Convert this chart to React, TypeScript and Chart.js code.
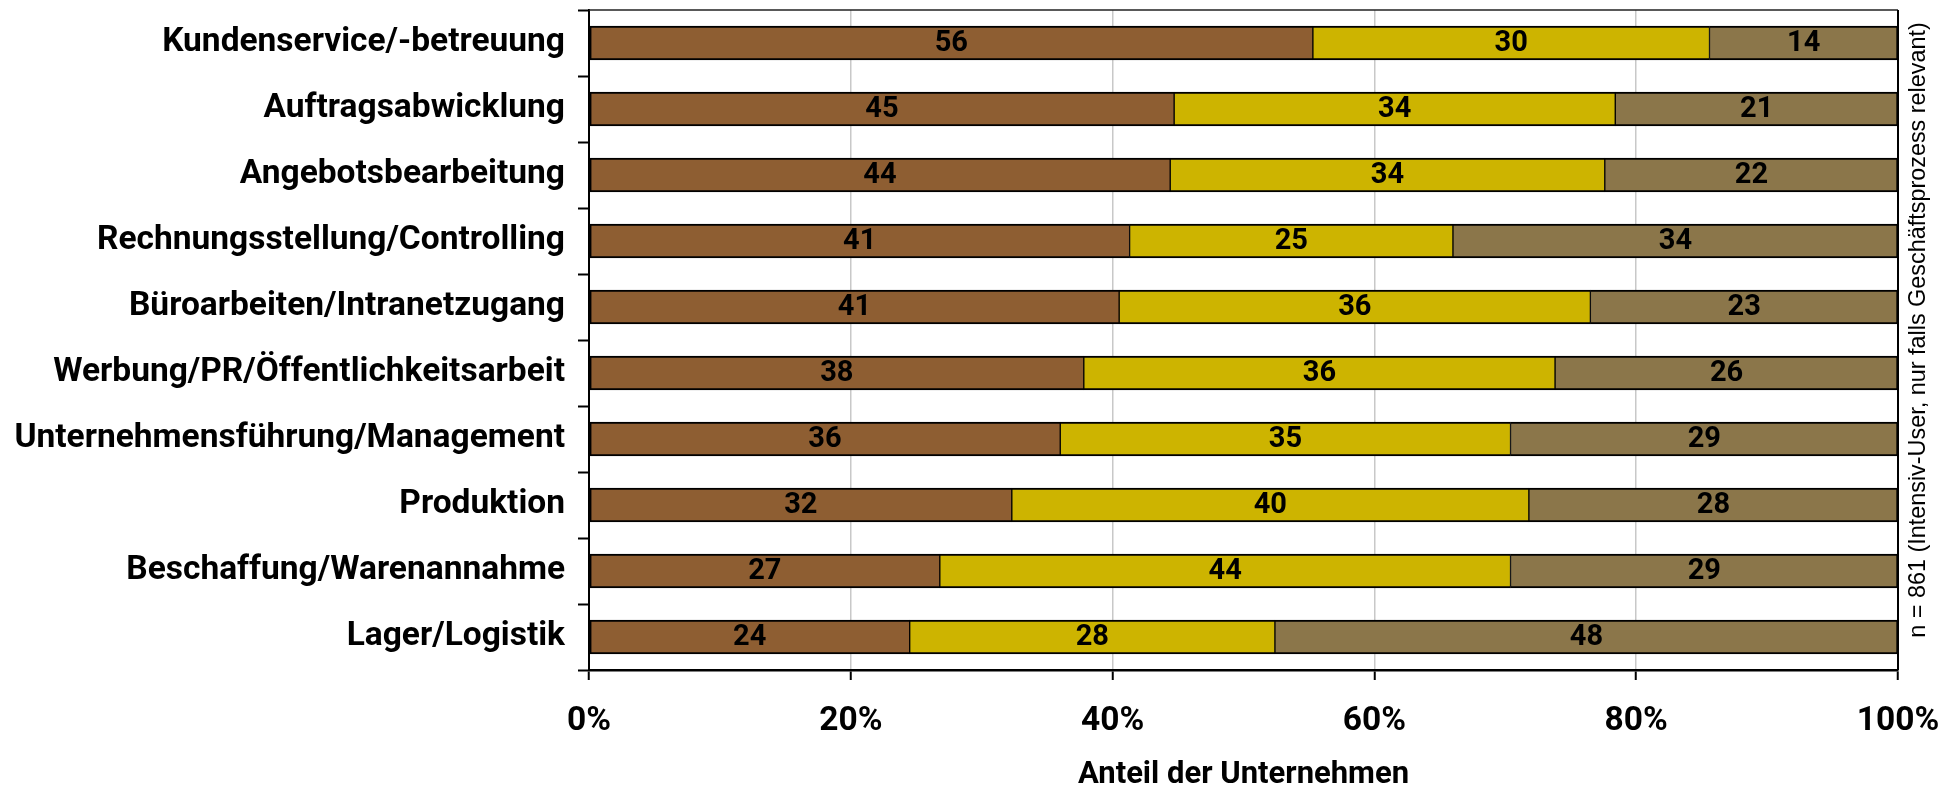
import React, { useEffect, useRef } from 'react';
import { Chart, registerables } from 'chart.js';

Chart.register(...registerables);

const categories = [
  'Kundenservice/-betreuung',
  'Auftragsabwicklung',
  'Angebotsbearbeitung',
  'Rechnungsstellung/Controlling',
  'Büroarbeiten/Intranetzugang',
  'Werbung/PR/Öffentlichkeitsarbeit',
  'Unternehmensführung/Management',
  'Produktion',
  'Beschaffung/Warenannahme',
  'Lager/Logistik',
];

const shareHigh = [55.3, 44.7, 44.4, 41.3, 40.5, 37.8, 36.0, 32.3, 26.8, 24.5];
const shareMid = [30.3, 33.7, 33.2, 24.7, 36.0, 36.0, 34.4, 39.5, 43.6, 27.9];
const shareLow = [14.4, 21.6, 22.4, 34.0, 23.5, 26.2, 29.6, 28.2, 29.6, 47.6];

const labelHigh = [56, 45, 44, 41, 41, 38, 36, 32, 27, 24];
const labelMid = [30, 34, 34, 25, 36, 36, 35, 40, 44, 28];
const labelLow = [14, 21, 22, 34, 23, 26, 29, 28, 29, 48];

const xTickValues = [0, 20, 40, 60, 80, 100];
const xTitle = 'Anteil der Unternehmen';
const noteText = 'n = 861 (Intensiv-User, nur falls Geschäftsprozess relevant)';

const BOLD_FONT = 'Roboto, "Liberation Sans", Arial, sans-serif';
const NOTE_FONT = '"Liberation Sans", Arial, Helvetica, sans-serif';

export default function App() {
  const ref = useRef<HTMLCanvasElement | null>(null);

  useEffect(() => {
    document.body.style.margin = '0';
    const canvas = ref.current;
    if (!canvas) return;

    const segLabels = [labelHigh, labelMid, labelLow];

    const valuePlugin = {
      id: 'valueLabels',
      afterDatasetsDraw(chart: any) {
        const ctx = chart.ctx;
        ctx.save();
        ctx.font = `bold 29px ${BOLD_FONT}`;
        ctx.fillStyle = '#000';
        ctx.textAlign = 'center';
        ctx.textBaseline = 'middle';
        chart.data.datasets.forEach((_ds: any, di: number) => {
          const meta = chart.getDatasetMeta(di);
          meta.data.forEach((el: any, i: number) => {
            const cx = (el.x + el.base) / 2;
            ctx.fillText(String(segLabels[di][i]), cx, el.y + 1);
          });
        });
        ctx.restore();
      },
    };

    const framePlugin = {
      id: 'frame',
      afterDraw(chart: any) {
        const { ctx, chartArea } = chart;
        ctx.save();
        ctx.strokeStyle = '#222';
        ctx.lineWidth = 1.5;
        ctx.beginPath();
        ctx.moveTo(chartArea.left, chartArea.top);
        ctx.lineTo(chartArea.right, chartArea.top);
        ctx.stroke();
        ctx.lineWidth = 2;
        ctx.strokeStyle = '#000';
        ctx.beginPath();
        ctx.moveTo(chartArea.right, chartArea.top);
        ctx.lineTo(chartArea.right, chartArea.bottom);
        ctx.stroke();
        ctx.font = `23.4px ${NOTE_FONT}`;
        ctx.fillStyle = '#000';
        ctx.textAlign = 'center';
        ctx.textBaseline = 'middle';
        ctx.translate(1919, 330);
        ctx.rotate(-Math.PI / 2);
        ctx.fillText(noteText, 0, 0);
        ctx.restore();
      },
    };

    const common = {
      barThickness: 34,
      borderColor: '#000',
      borderSkipped: false as const,
    };

    const chart = new Chart(canvas, {
      type: 'bar',
      data: {
        labels: categories,
        datasets: [
          {
            label: 'hoch',
            data: shareHigh,
            backgroundColor: '#8E5E32',
            borderWidth: { top: 2, bottom: 2, left: 2, right: 1 },
            ...common,
          },
          {
            label: 'mittel',
            data: shareMid,
            backgroundColor: '#CDB400',
            borderWidth: { top: 2, bottom: 2, left: 1, right: 1 },
            ...common,
          },
          {
            label: 'gering',
            data: shareLow,
            backgroundColor: '#8B764A',
            borderWidth: { top: 2, bottom: 2, left: 1, right: 2 },
            ...common,
          },
        ],
      },
      options: {
        indexAxis: 'y',
        responsive: true,
        maintainAspectRatio: false,
        animation: false,
        layout: { padding: { top: 10, right: 58, left: 0, bottom: 0 } },
        plugins: {
          legend: { display: false },
          tooltip: { enabled: false },
        },
        scales: {
          x: {
            stacked: true,
            min: 0,
            max: 100,
            afterBuildTicks(scale: any) {
              scale.ticks = xTickValues.map((v) => ({ value: v }));
            },
            afterFit(scale: any) {
              scale.height = 115;
              scale.paddingLeft = 0;
              scale.paddingRight = 0;
            },
            ticks: {
              color: '#000',
              padding: 22,
              font: { family: BOLD_FONT, size: 33.5, weight: 'bold' },
              callback: (v: any) => `${v}%`,
              maxRotation: 0,
            },
            grid: {
              color: '#c8c8c8',
              lineWidth: 1.5,
              tickColor: '#000',
              tickLength: 10,
              tickWidth: 2,
            },
            border: { color: '#000', width: 2.5 },
            title: {
              display: true,
              text: xTitle,
              color: '#000',
              font: { family: BOLD_FONT, size: 31, weight: 'bold', lineHeight: 0.6 },
              padding: 0,
            },
          },
          y: {
            stacked: true,
            afterFit(scale: any) {
              scale.width = 589;
              scale.paddingTop = 0;
              scale.paddingBottom = 0;
            },
            ticks: {
              color: '#000',
              padding: 13,
              font: { family: BOLD_FONT, size: 33.5, weight: 'bold' },
            },
            grid: {
              offset: true,
              drawOnChartArea: false,
              tickLength: 11,
              tickColor: '#000',
              tickWidth: 2,
            },
            border: { color: '#000', width: 2 },
          },
        },
      },
      plugins: [valuePlugin, framePlugin],
    } as any);

    return () => chart.destroy();
  }, []);

  return (
    <div style={{ width: 1956, height: 785, position: 'relative' }}>
      <canvas ref={ref} />
    </div>
  );
}
